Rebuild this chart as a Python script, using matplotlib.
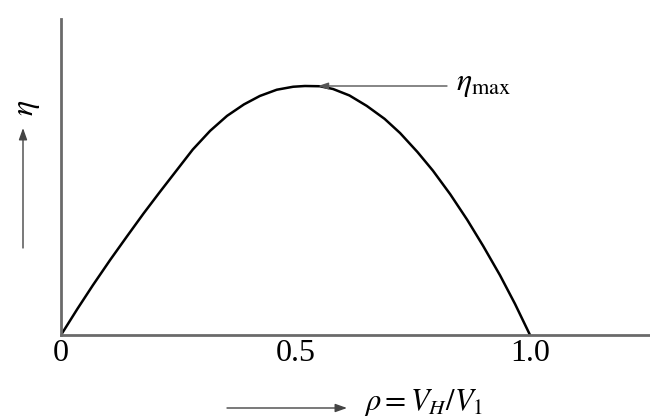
import matplotlib
matplotlib.use('Agg')
import matplotlib.pyplot as plt

plt.rcParams['font.family'] = ['Liberation Serif', 'DejaVu Serif']
plt.rcParams['mathtext.fontset'] = 'stix'

# Efficiency curve eta(rho), normalised so that eta_max = 1
rho = [0.0, 0.035, 0.068, 0.105, 0.141, 0.176, 0.211, 0.246, 0.281, 0.318,
       0.354, 0.390, 0.424, 0.460, 0.495, 0.520, 0.552, 0.580, 0.615, 0.652,
       0.690, 0.723, 0.760, 0.793, 0.830, 0.866, 0.900, 0.936, 0.968, 1.0]
eta = [0.0, 0.105, 0.200, 0.302, 0.397, 0.488, 0.575, 0.660, 0.745, 0.820,
       0.880, 0.926, 0.960, 0.985, 0.997, 1.0, 0.999, 0.988, 0.962, 0.920,
       0.868, 0.811, 0.735, 0.660, 0.565, 0.463, 0.358, 0.240, 0.125, 0.0]

rho_at_max = 0.548
eta_max = 1.0

xtick_pos = [0.0, 0.5, 1.0]
xtick_labels = ['0', '0.5', '1.0']

fig = plt.figure(figsize=(6.5, 4.19), dpi=100)
ax = fig.add_axes([61 / 650, 1 - 335 / 419, 589 / 650, 316 / 419])

ax.plot(rho, eta, color='black', lw=1.8, solid_capstyle='round',
        solid_joinstyle='round')

ax.set_xlim(0, 589 / 469)
ax.set_ylim(0, 316 / 249)

for side in ['top', 'right']:
    ax.spines[side].set_visible(False)
for side in ['left', 'bottom']:
    ax.spines[side].set_color('#6a6a6a')
    ax.spines[side].set_linewidth(2.0)

ax.set_xticks(xtick_pos)
ax.set_xticklabels(xtick_labels, fontsize=23)
ax.tick_params(axis='x', length=0, pad=3)
ax.set_yticks([])

# eta_max pointer
ax.annotate('', xy=(rho_at_max, eta_max), xytext=(0.823, eta_max),
            arrowprops=dict(arrowstyle='-|>,head_length=0.6,head_width=0.2',
                            color='#555555', lw=1.0, shrinkA=0, shrinkB=0))
ax.text(0.843, 0.984, r'$\eta_{\mathrm{max}}$', fontsize=23,
        ha='left', va='baseline')

# axis labels with arrows, in figure pixels
ax.annotate('', xy=(23, 419 - 128), xytext=(23, 419 - 248),
            xycoords='figure pixels', textcoords='figure pixels',
            arrowprops=dict(arrowstyle='-|>,head_length=0.7,head_width=0.25',
                            color='#444444', lw=1.0, shrinkA=0, shrinkB=0))
fig.text(28 / 650, 1 - 108 / 419, r'$\eta$', fontsize=23, rotation=90,
         ha='center', va='center')

ax.annotate('', xy=(347, 419 - 408), xytext=(227, 419 - 408),
            xycoords='figure pixels', textcoords='figure pixels',
            arrowprops=dict(arrowstyle='-|>,head_length=0.7,head_width=0.25',
                            color='#444444', lw=1.0, shrinkA=0, shrinkB=0))
fig.text(364 / 650, 9 / 419, r'$\rho = V_H/V_1$', fontsize=22,
         ha='left', va='baseline')

fig.savefig('out.png', dpi=100)
